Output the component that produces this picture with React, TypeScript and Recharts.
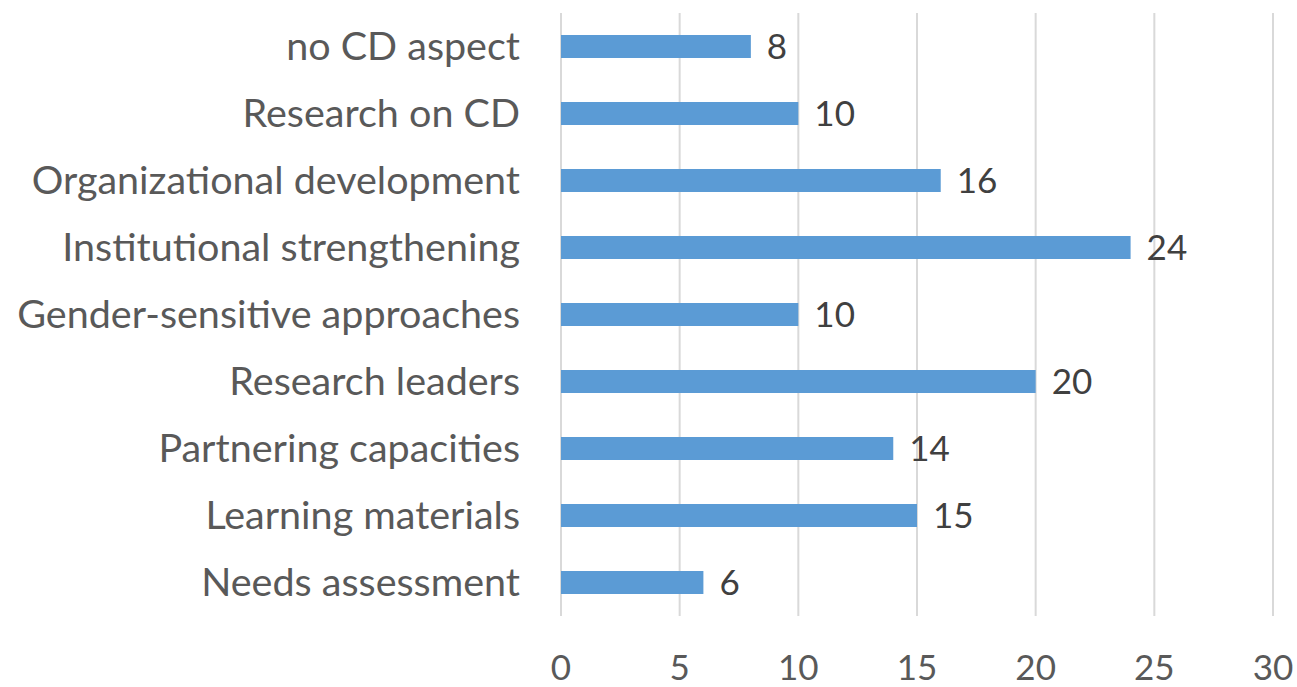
import React from 'react';
import { BarChart, Bar, XAxis, YAxis, CartesianGrid, LabelList } from 'recharts';

const categories = [
  'no CD aspect',
  'Research on CD',
  'Organizational development',
  'Institutional strengthening',
  'Gender-sensitive approaches',
  'Research leaders',
  'Partnering capacities',
  'Learning materials',
  'Needs assessment',
];
const values = [8, 10, 16, 24, 10, 20, 14, 15, 6];
const xTicks = [0, 5, 10, 15, 20, 25, 30];

const data = categories.map((name, i) => ({ name, value: values[i] }));

const FONT = 'Lato, "Liberation Sans", sans-serif';
const CAT_FS = 39.5;
const NUM_FS = 35;

const CatTick = (props: any) => {
  const { x, y, payload } = props;
  return (
    <text x={x - 33} y={y} dy="0.35em" textAnchor="end" fill="#595959" fontFamily={FONT} fontSize={CAT_FS}>
      {payload.value}
    </text>
  );
};

const NumTick = (props: any) => {
  const { x, y, payload } = props;
  return (
    <text x={x} y={y} dy="0.35em" textAnchor="middle" fill="#595959" fontFamily={FONT} fontSize={NUM_FS}>
      {payload.value}
    </text>
  );
};

export default function App() {
  return (
    <div style={{ position: 'absolute', left: 0, top: 0, background: '#fff' }}>
      <BarChart
        width={1297}
        height={687}
        data={data}
        layout="vertical"
        margin={{ top: 13, right: 24, bottom: 0, left: 0 }}
        barSize={23}
      >
        <CartesianGrid horizontal={false} stroke="#d9d9d9" strokeWidth={2} />
        <XAxis
          type="number"
          domain={[0, 30]}
          ticks={xTicks}
          axisLine={false}
          tickLine={false}
          height={71}
          tick={(p: any) => <NumTick {...p} y={668} />}
          interval={0}
        />
        <YAxis
          type="category"
          dataKey="name"
          width={561}
          axisLine={false}
          tickLine={false}
          tick={<CatTick />}
          interval={0}
        />
        <Bar dataKey="value" fill="#5b9bd5" isAnimationActive={false}>
          <LabelList
            dataKey="value"
            position="right"
            offset={16}
            fill="#404040"
            fontFamily={FONT}
            fontSize={NUM_FS}
          />
        </Bar>
      </BarChart>
    </div>
  );
}
